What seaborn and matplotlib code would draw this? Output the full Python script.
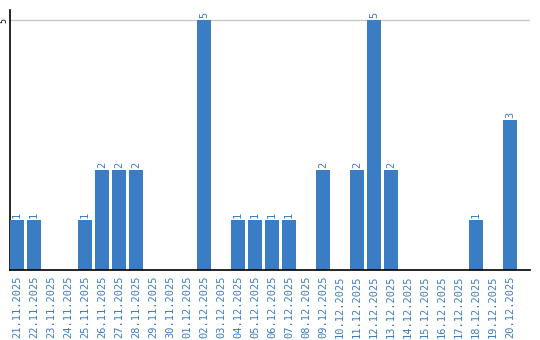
import matplotlib
matplotlib.use("Agg")
import matplotlib.pyplot as plt
import seaborn as sns
import pandas as pd

dates = ["21.11.2025", "22.11.2025", "23.11.2025", "24.11.2025", "25.11.2025",
         "26.11.2025", "27.11.2025", "28.11.2025", "29.11.2025", "30.11.2025",
         "01.12.2025", "02.12.2025", "03.12.2025", "04.12.2025", "05.12.2025",
         "06.12.2025", "07.12.2025", "08.12.2025", "09.12.2025", "10.12.2025",
         "11.12.2025", "12.12.2025", "13.12.2025", "14.12.2025", "15.12.2025",
         "16.12.2025", "17.12.2025", "18.12.2025", "19.12.2025", "20.12.2025"]
counts = [1, 1, 0, 0, 1, 2, 2, 2, 0, 0,
          0, 5, 0, 1, 1, 1, 1, 0, 2, 0,
          2, 5, 2, 0, 0, 0, 0, 1, 0, 3]
ytick_vals = [5]

df = pd.DataFrame({"date": dates, "count": counts})

sns.set_style("white")
plt.rcParams['font.family'] = ['DejaVu Sans Mono', 'DejaVu Sans']

blue = "#3b7dc4"
fig = plt.figure(figsize=(5.4, 3.4), dpi=100)
ax = fig.add_axes([10/540, 70/340, 520/540, 260/340])

sns.barplot(data=df, x="date", y="count", color=blue, width=0.82,
            saturation=1, ax=ax, zorder=3, linewidth=0, edgecolor="none")

ax.set_xlim(-0.41, 30.18)
ax.set_ylim(0, 5.2)
ax.set_yticks(ytick_vals)
ax.set_yticklabels([str(v) for v in ytick_vals], rotation=90, va="center",
                   fontsize=6, color="black")
ax.tick_params(axis="y", length=0, pad=1.5)
ax.tick_params(axis="x", length=0, pad=4, labelsize=7.5, labelcolor=blue,
               rotation=90)
ax.yaxis.grid(True, color="#c8c8c8", linewidth=1, zorder=0)
ax.set_xlabel("")
ax.set_ylabel("")

for s in ["top", "right"]:
    ax.spines[s].set_visible(False)
ax.spines["left"].set_color("black")
ax.spines["bottom"].set_color("black")
ax.spines["left"].set_linewidth(1.2)
ax.spines["bottom"].set_linewidth(1.2)
ax.spines["bottom"].set_zorder(5)

for i, v in enumerate(counts):
    if v > 0:
        ax.text(i, v + 0.04, str(v), rotation=90, ha="center", va="bottom",
                fontsize=7.5, color=blue)

fig.savefig("out.png", dpi=100)
